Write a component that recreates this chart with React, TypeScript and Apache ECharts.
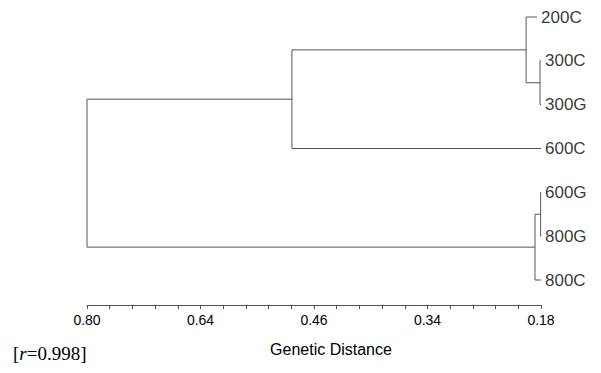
import React, { useEffect, useRef } from "react";
import * as echarts from "echarts";

// Leaves (top to bottom)
const leafNames = ["200C", "300C", "300G", "600C", "600G", "800G", "800C"];
// Genetic distance at which each leaf line ends
const leafEnd = [0.1856, 0.18, 0.18, 0.18, 0.18, 0.18, 0.18];
// Merges: children (leaf name or node id) and join distance
const nodeIds = ["n0", "n1", "n2", "n3", "n4", "n5"];
const nodeLeft = ["300C", "200C", "n1", "600G", "n3", "n2"];
const nodeRight = ["300G", "n0", "600C", "800G", "800C", "n4"];
const nodeHeight = [0.1814, 0.201, 0.495, 0.1805, 0.1885, 0.8];
// Axis tick labels (evenly spaced on the axis)
const tickLabels = ["0.80", "0.64", "0.46", "0.34", "0.18"];
const tickValues = [0.8, 0.64, 0.46, 0.34, 0.18];
const axisName = "Genetic Distance";
const rValue = "0.998";

// piecewise-linear map from distance to axis position (0..4)
function toPos(d: number): number {
  for (let i = 0; i < tickValues.length - 1; i++) {
    const a = tickValues[i];
    const b = tickValues[i + 1];
    if ((d <= a && d >= b) || i === tickValues.length - 2) {
      return i + (a - d) / (a - b);
    }
  }
  return 0;
}

export default function App() {
  const ref = useRef<HTMLDivElement>(null);
  useEffect(() => {
    document.body.style.margin = "0";
    if (!ref.current) return;
    const chart = echarts.init(ref.current, null, { renderer: "svg" });

    const posX: Record<string, number> = {};
    const posY: Record<string, number> = {};
    leafNames.forEach((n, i) => {
      posX[n] = toPos(leafEnd[i]);
      posY[n] = i;
    });
    const links: number[][] = [];
    nodeIds.forEach((id, i) => {
      const l = nodeLeft[i];
      const r = nodeRight[i];
      const x = toPos(nodeHeight[i]);
      posX[id] = x;
      posY[id] = (posY[l] + posY[r]) / 2;
      links.push([x, posY[l], posY[r], posX[l], posX[r]]);
    });

    const lineColor = "#555";
    const sans = "Liberation Sans, Arial, sans-serif";
    const serif = "Liberation Serif, Times New Roman, serif";
    chart.setOption({
      animation: false,
      grid: { left: 87, right: 60, top: 17, bottom: 68 },
      xAxis: {
        type: "value",
        position: "bottom",
        min: 0,
        max: 4,
        interval: 1,
        splitLine: { show: false },
        axisLine: { show: true, onZero: false, lineStyle: { color: lineColor, width: 1 } },
        axisTick: { show: true, length: 4, lineStyle: { color: lineColor } },
        minorTick: { show: true, splitNumber: 5, length: 4, lineStyle: { color: lineColor } },
        axisLabel: {
          formatter: (v: number) => tickLabels[Math.round(v)] ?? "",
          fontSize: 14,
          color: "#000",
          margin: 8,
          fontFamily: sans,
        },
        name: axisName,
        nameLocation: "middle",
        nameGap: 36,
        nameTextStyle: {
          fontSize: 16,
          color: "#000",
          fontFamily: sans,
          padding: [0, 0, 0, 34],
        },
      },
      yAxis: {
        type: "value",
        show: false,
        inverse: true,
        min: 0,
        max: 6.57,
      },
      series: [
        {
          type: "custom",
          data: links,
          encode: { x: [0, 3, 4], y: [1, 2] },
          renderItem: (params: any, api: any) => {
            const x = api.value(0);
            const y1 = api.value(1);
            const y2 = api.value(2);
            const c1 = api.value(3);
            const c2 = api.value(4);
            const pts = [
              api.coord([c1, y1]),
              api.coord([x, y1]),
              api.coord([x, y2]),
              api.coord([c2, y2]),
            ];
            return {
              type: "polyline",
              shape: { points: pts },
              style: { stroke: lineColor, lineWidth: 1, fill: null },
            };
          },
        },
        {
          type: "scatter",
          symbolSize: 0,
          data: leafNames.map((n, i) => [toPos(leafEnd[i]), i]),
          label: {
            show: true,
            position: "right",
            distance: 4,
            formatter: (p: any) => leafNames[p.dataIndex],
            fontSize: 17,
            color: "#000",
            fontFamily: sans,
          },
          silent: true,
        },
      ],
      graphic: [
        {
          type: "text",
          left: 13,
          top: 344,
          style: {
            text: "{a|[}{i|r}{a|=" + rValue + "]}",
            rich: {
              a: { fontFamily: serif, fontSize: 19, fill: "#000" },
              i: { fontFamily: serif, fontSize: 19, fontStyle: "italic", fill: "#000" },
            },
          },
        },
      ],
    });
    return () => chart.dispose();
  }, []);
  return <div ref={ref} style={{ width: 601, height: 373 }} />;
}
